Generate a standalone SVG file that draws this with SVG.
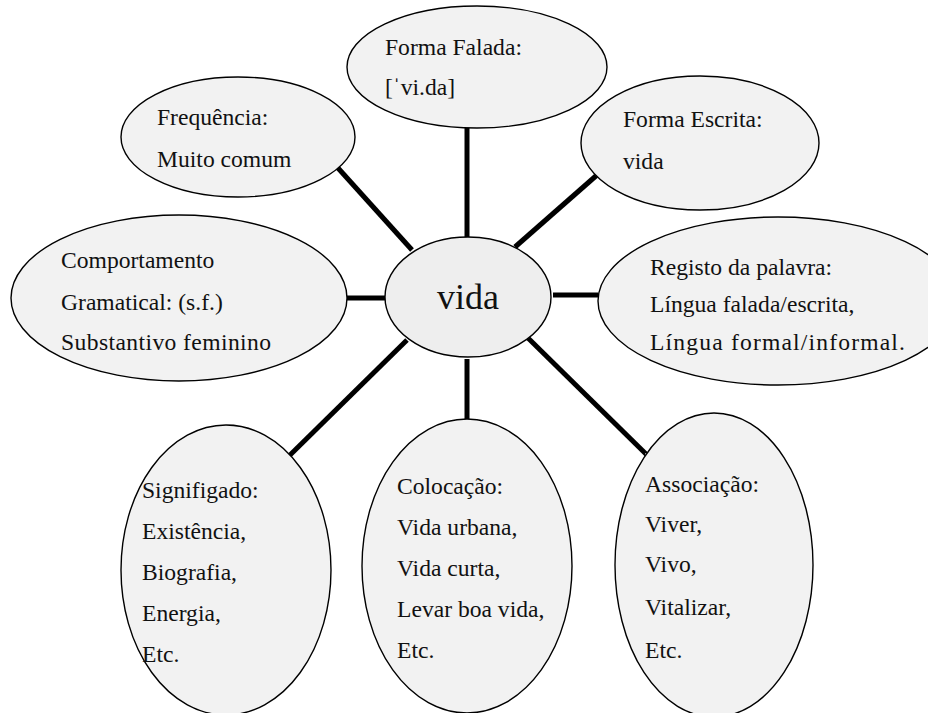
<svg xmlns="http://www.w3.org/2000/svg" width="928" height="713" viewBox="0 0 928 713">
<style>
.bg{fill:#ffffff}
.node ellipse{fill:#f2f2f2;stroke:#000;stroke-width:1.4}
.node text{font-family:"Liberation Serif","Times New Roman",serif;font-size:23.6px;fill:#111}
#center ellipse{fill:#eeeeee}
#center text{font-size:36px}
.conn line{stroke:#000;stroke-width:5;stroke-linecap:butt}
.handle{fill:#999}
</style>
<rect class="bg" x="0" y="0" width="928" height="713"/>
<g id="connectors" class="conn">
<line x1="338" y1="168" x2="412" y2="250"/>
<line x1="467" y1="128" x2="467" y2="238"/>
<line x1="597" y1="175" x2="515" y2="247"/>
<line x1="347" y1="298" x2="387" y2="298"/>
<line x1="553" y1="295" x2="598" y2="295"/>
<line x1="288" y1="457" x2="407" y2="340"/>
<line x1="467" y1="359" x2="467" y2="421"/>
<line x1="528" y1="338" x2="648" y2="456"/>
<rect class="handle" x="385" y="295" width="6" height="6"/>
<rect class="handle" x="645" y="453" width="5" height="5"/>
</g>
<g id="forma-falada" class="node">
<ellipse cx="477" cy="67" rx="130" ry="61"/>
<text x="385" y="55">Forma Falada:</text>
<text x="385" y="95">[ˈvi.da]</text>
</g>
<g id="frequencia" class="node">
<ellipse cx="238" cy="137" rx="117" ry="60"/>
<text x="157" y="125">Frequência:</text>
<text x="157" y="167">Muito comum</text>
</g>
<g id="forma-escrita" class="node">
<ellipse cx="700" cy="143" rx="119" ry="67"/>
<text x="623" y="127">Forma Escrita:</text>
<text x="623" y="169">vida</text>
</g>
<g id="comportamento" class="node">
<ellipse cx="179" cy="298" rx="168" ry="83"/>
<text x="61" y="268">Comportamento</text>
<text x="61" y="310">Gramatical: (s.f.)</text>
<text x="61" y="350" textLength="210" lengthAdjust="spacing">Substantivo feminino</text>
</g>
<g id="registo" class="node">
<ellipse cx="778" cy="301" rx="180" ry="84"/>
<text x="650" y="275">Registo da palavra:</text>
<text x="650" y="312">Língua falada/escrita,</text>
<text x="650" y="350" textLength="255" lengthAdjust="spacing">Língua formal/informal.</text>
</g>
<g id="center" class="node">
<ellipse cx="468" cy="297" rx="83" ry="60"/>
<text x="468" y="309" text-anchor="middle">vida</text>
</g>
<g id="signifigado" class="node">
<ellipse cx="226" cy="570" rx="105" ry="145"/>
<text x="142" y="498">Signifigado:</text>
<text x="142" y="539">Existência,</text>
<text x="142" y="580">Biografia,</text>
<text x="142" y="621">Energia,</text>
<text x="142" y="662">Etc.</text>
</g>
<g id="colocacao" class="node">
<ellipse cx="467" cy="566" rx="105" ry="147"/>
<text x="397" y="494">Colocação:</text>
<text x="397" y="535">Vida urbana,</text>
<text x="397" y="576">Vida curta,</text>
<text x="397" y="617">Levar boa vida,</text>
<text x="397" y="658">Etc.</text>
</g>
<g id="associacao" class="node">
<ellipse cx="714" cy="565" rx="99" ry="152"/>
<text x="645" y="492">Associação:</text>
<text x="645" y="532">Viver,</text>
<text x="645" y="572">Vivo,</text>
<text x="645" y="615">Vitalizar,</text>
<text x="645" y="658">Etc.</text>
</g>
</svg>
